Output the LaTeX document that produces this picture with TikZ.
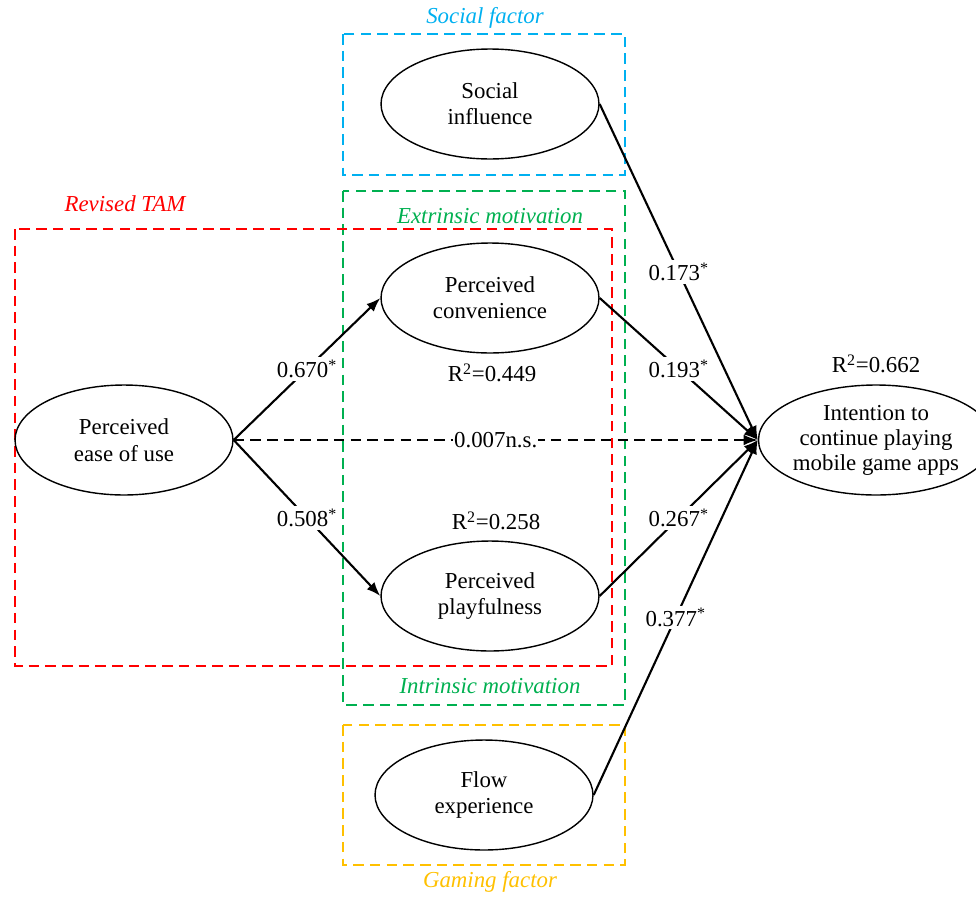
\documentclass[tikz,border=0pt]{standalone}
\usepackage{fontspec}
\setmainfont{Liberation Serif}
\usetikzlibrary{arrows.meta, positioning, shapes.geometric, calc}

\definecolor{tamred}{RGB}{255,0,0}
\definecolor{socialblue}{RGB}{0,176,240}
\definecolor{motivgreen}{RGB}{0,176,80}
\definecolor{gameyellow}{RGB}{255,192,0}

\begin{document}
\begin{tikzpicture}[x=0.02cm, y=-0.02cm, >={Latex[length=8pt,width=6pt]},
    font=\fontsize{13}{15}\selectfont,
    construct/.style={ellipse, draw, line width=0.8pt, minimum width=4.36cm,
      minimum height=2.2cm, inner sep=0pt, align=center},
    groupbox/.style={dash pattern=on 6pt off 3.5pt, line width=0.9pt},
    grouplabel/.style={font=\fontsize{13}{15}\selectfont\itshape},
    path/.style={->, line width=1.2pt},
    coef/.style={fill=white, inner sep=1.5pt}]
  \useasboundingbox (0,0) rectangle (976,896);

  % --- Grouping boxes
  \draw[groupbox, socialblue] (343,34) rectangle (625,175);
  \draw[groupbox, motivgreen] (343,191) rectangle (625,705);
  \draw[groupbox, tamred]     (15,229) rectangle (612,666);
  \draw[groupbox, gameyellow] (343,725) rectangle (625,865);

  \node[grouplabel, socialblue] (lblsocial) at (485,18)  {Social factor};
  \node[grouplabel, tamred]     (lbltam)    at (125,204) {Revised TAM};
  \node[grouplabel, motivgreen] (lblext)    at (490,216) {Extrinsic motivation};
  \node[grouplabel, motivgreen] (lblint)    at (490,686) {Intrinsic motivation};
  \node[grouplabel, gameyellow] (lblgame)   at (490,882) {Gaming factor};

  % --- Constructs
  \node[construct] (social) at (490,104) {Social\\influence};
  \node[construct] (conv)   at (490,298) {Perceived\\convenience};
  \node[construct] (play)   at (490,596) {Perceived\\playfulness};
  \node[construct] (flow)   at (484,795) {Flow\\experience};
  \node[construct] (ease)   at (124,440) {Perceived\\ease of use};
  \node[construct, font=\fontsize{13}{14.2}\selectfont]
    (intent) at (876,440) {Intention to\\continue playing\\mobile game apps};

  % --- Explained variance
  \node (r2conv)   at (492,373) {R\textsuperscript{2}=0.449};
  \node (r2play)   at (496,521) {R\textsuperscript{2}=0.258};
  \node (r2intent) at (876,364) {R\textsuperscript{2}=0.662};

  % --- Structural paths
  \draw[path] (ease.east) -- node[coef] {0.670\textsuperscript{*}} (conv.west);
  \draw[path] (ease.east) -- node[coef] {0.508\textsuperscript{*}} (play.west);
  \draw[path, dash pattern=on 6pt off 3.5pt, line width=0.9pt]
    (ease.east) -- node[coef, inner sep=0.5pt] {0.007n.s.} (intent.west);
  \draw[path] (social.east) -- node[coef] {0.173\textsuperscript{*}} (intent.west);
  \draw[path] (conv.east)   -- node[coef] {0.193\textsuperscript{*}} (intent.west);
  \draw[path] (play.east)   -- node[coef] {0.267\textsuperscript{*}} (intent.west);
  \draw[path] (flow.east)   -- node[coef] {0.377\textsuperscript{*}} (intent.west);
\end{tikzpicture}
\end{document}
